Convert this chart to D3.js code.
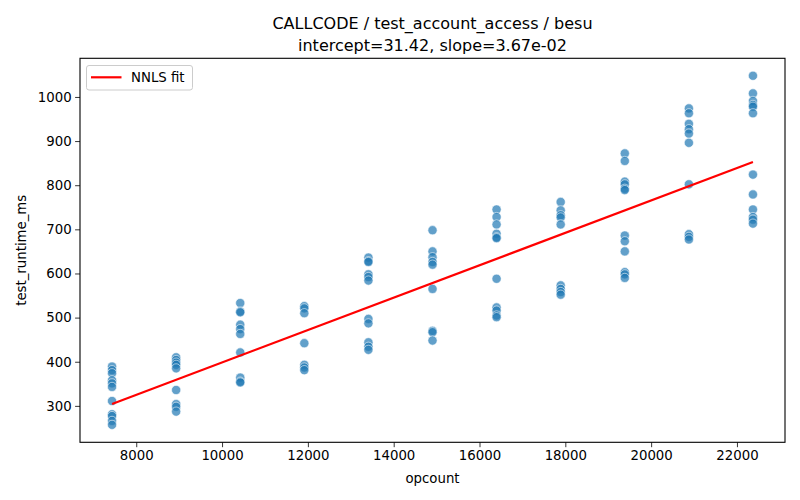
<!DOCTYPE html>
<html>
<head>
<meta charset="utf-8">
<script src="https://cdn.jsdelivr.net/npm/d3@7"></script>
<style>
  body { margin: 0; background: #fff; }
  svg { font-family: "DejaVu Sans", sans-serif; }
</style>
</head>
<body>
<div id="chart"></div>
<script>
// ---- data ----
const opcounts = [7436, 8930, 10424, 11917, 13411, 14905, 16398, 17892, 19386, 20880, 22373];
const runtimes = [
  [389, 381, 374, 358, 351, 343, 311, 281, 277, 266, 257],
  [410, 404, 398, 393, 385, 336, 304, 298, 287],
  [533, 514, 512, 484, 474, 463, 421, 364, 355, 353],
  [526, 521, 510, 442, 393, 387, 381],
  [636, 628, 626, 598, 592, 584, 497, 487, 444, 434, 427],
  [698, 650, 637, 626, 620, 565, 470, 467, 448],
  [745, 728, 711, 690, 682, 680, 588, 523, 516, 505, 501],
  [762, 743, 732, 727, 711, 573, 565, 558, 552],
  [872, 855, 808, 802, 792, 789, 686, 673, 650, 603, 598, 590],
  [974, 963, 939, 927, 917, 896, 802, 689, 683, 677],
  [1048, 1008, 991, 982, 978, 963, 824, 779, 745, 728, 722, 713]
];
const xTicks = [8000, 10000, 12000, 14000, 16000, 18000, 20000, 22000];
const yTicks = [300, 400, 500, 600, 700, 800, 900, 1000];
const intercept = 31.42;
const slope = 3.67e-02;
const titleLines = ["CALLCODE / test_account_access / besu", "intercept=31.42, slope=3.67e-02"];

const points = [];
opcounts.forEach((x, i) => runtimes[i].forEach(y => points.push({x, y})));

// ---- layout ----
const W = 800, H = 500;
const m = {left: 80, right: 15, top: 58.3, bottom: 57.7};

const svg = d3.select("#chart").append("svg").attr("width", W).attr("height", H);

const xMin = d3.min(opcounts), xMax = d3.max(opcounts);
const yMin = d3.min(points, d => d.y), yMax = d3.max(points, d => d.y);
const xPad = (xMax - xMin) * 0.05, yPad = (yMax - yMin) * 0.05;

const x = d3.scaleLinear().domain([xMin - xPad, xMax + xPad]).range([m.left, W - m.right]);
const y = d3.scaleLinear().domain([yMin - yPad, yMax + yPad]).range([H - m.bottom, m.top]);

// points
svg.append("g").selectAll("circle").data(points).join("circle")
  .attr("cx", d => x(d.x)).attr("cy", d => y(d.y)).attr("r", 4.6)
  .attr("fill", "#1f77b4").attr("fill-opacity", 0.7)
  .attr("stroke", "#fff").attr("stroke-width", 0.7).attr("stroke-opacity", 0.8);

// fit line
const fit = [xMin, xMax].map(v => ({x: v, y: intercept + slope * v}));
svg.append("path").datum(fit)
  .attr("d", d3.line().x(d => x(d.x)).y(d => y(d.y)))
  .attr("stroke", "red").attr("stroke-width", 2.2).attr("fill", "none");

// axes
const xAxis = svg.append("g").attr("transform", `translate(0,${H - m.bottom})`)
  .call(d3.axisBottom(x).tickValues(xTicks).tickFormat(d3.format("d")).tickSize(4.9).tickPadding(3.5));
const yAxis = svg.append("g").attr("transform", `translate(${m.left},0)`)
  .call(d3.axisLeft(y).tickValues(yTicks).tickFormat(d3.format("d")).tickSize(4.9).tickPadding(3.5));
[xAxis, yAxis].forEach(a => {
  a.selectAll("text").attr("font-size", "13.3px").attr("fill", "#000").attr("font-family", "DejaVu Sans");
  a.selectAll("line").attr("stroke", "#000").attr("stroke-width", 0.8);
  a.select(".domain").remove();
});

// frame
svg.append("rect").attr("x", m.left).attr("y", m.top)
  .attr("width", W - m.left - m.right).attr("height", H - m.top - m.bottom)
  .attr("fill", "none").attr("stroke", "#000").attr("stroke-width", 1.1);

// labels
svg.append("text").attr("x", (m.left + W - m.right) / 2).attr("y", 483)
  .attr("text-anchor", "middle").attr("font-size", "13.3px").text("opcount");
svg.append("text").attr("transform", `translate(26,${(m.top + H - m.bottom) / 2}) rotate(-90)`)
  .attr("text-anchor", "middle").attr("font-size", "13.3px").text("test_runtime_ms");

// title
titleLines.forEach((t, i) => {
  svg.append("text").attr("x", (m.left + W - m.right) / 2).attr("y", 29 + i * 21.5)
    .attr("text-anchor", "middle").attr("font-size", "16px").text(t);
});

// legend
const lg = svg.append("g");
lg.append("rect").attr("x", 86.5).attr("y", 65.5).attr("width", 106).attr("height", 24.5)
  .attr("rx", 2.5).attr("fill", "#fff").attr("fill-opacity", 0.8)
  .attr("stroke", "#ccc").attr("stroke-width", 1);
lg.append("line").attr("x1", 91).attr("x2", 121.5).attr("y1", 77.3).attr("y2", 77.3)
  .attr("stroke", "red").attr("stroke-width", 2.2);
lg.append("text").attr("x", 131).attr("y", 82.3).attr("font-size", "13.3px").text("NNLS fit");
</script>
</body>
</html>
